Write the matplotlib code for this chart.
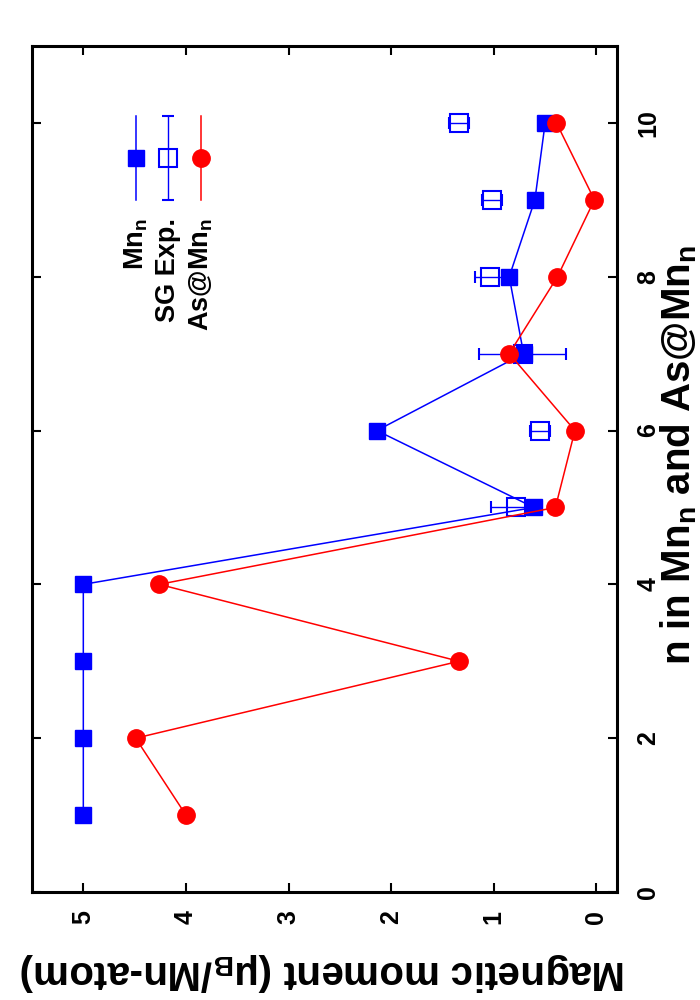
import matplotlib
matplotlib.use("Agg")
import matplotlib.pyplot as plt

plt.rcParams['font.family'] = ['Liberation Sans', 'DejaVu Sans']
plt.rcParams['font.weight'] = 'bold'
plt.rcParams['mathtext.fontset'] = 'custom'
plt.rcParams['mathtext.rm'] = 'Liberation Sans:bold'
plt.rcParams['mathtext.it'] = 'Liberation Sans:bold'
plt.rcParams['mathtext.bf'] = 'Liberation Sans:bold'

# ---- data ----
n_mn = [1, 2, 3, 4, 5, 6, 7, 8, 9, 10]
moment_mn = [5.0, 5.0, 5.0, 5.0, 0.61, 2.14, 0.71, 0.85, 0.60, 0.50]

n_as = [1, 2, 3, 4, 5, 6, 7, 8, 9, 10]
moment_as = [4.0, 4.49, 1.34, 4.26, 0.40, 0.21, 0.85, 0.38, 0.02, 0.39]

n_sg = [5, 6, 7, 8, 9, 10]
moment_sg = [0.78, 0.55, 0.72, 1.04, 1.02, 1.34]
err_sg = [0.25, 0.10, 0.42, 0.14, 0.10, 0.10]

moment_ticks = [0, 1, 2, 3, 4, 5]
n_ticks = [0, 2, 4, 6, 8, 10]

labels = ['Mn$_n$', 'SG Exp.', 'As@Mn$_n$']
xlabel_text = 'n in Mn$_n$ and As@Mn$_n$'
ylabel_text = 'Magnetic moment (\u03bc$_B$/Mn-atom)'

BLUE = '#0000ff'
RED = '#ff0000'

fig = plt.figure(figsize=(7, 10), dpi=100)
ax = fig.add_axes([32/700, 108/1000, 585/700, 846/1000])

# rotated chart: moment on horizontal axis (inverted), n on vertical axis
ax.plot(moment_mn, n_mn, '-s', color=BLUE, lw=1.1, ms=12, mec=BLUE, mfc=BLUE, zorder=3)
ax.errorbar(moment_sg, n_sg, xerr=err_sg, fmt='s', color=BLUE, ms=12.5,
            mfc='none', mec=BLUE, mew=1.5, elinewidth=1.0, capsize=4, capthick=1.0, zorder=2)
ax.plot(moment_as, n_as, '-o', color=RED, lw=1.1, ms=12.5, mec=RED, mfc=RED, zorder=4)

ax.set_xlim(5.5, -0.2)
ax.set_ylim(0, 11)
ax.set_xticks(moment_ticks)
ax.set_yticks(n_ticks)
ax.set_xticklabels([str(t) for t in moment_ticks], rotation=90, fontsize=18, fontweight='bold')
ax.set_yticklabels([str(t) for t in n_ticks], rotation=90, fontsize=18, fontweight='bold',
                   va='center')
ax.tick_params(axis='x', direction='in', top=True, bottom=True, length=6.5, width=1.5, pad=13)
ax.tick_params(axis='y', direction='in', left=True, right=True, labelleft=False,
               labelright=True, length=6.5, width=1.5, pad=14)
for sp in ax.spines.values():
    sp.set_linewidth(2.2)

# manual rotated legend (axes-fraction positions)
kx = [0.178, 0.232, 0.289]
y_top, y_bot, y_mid, y_txt = 0.917, 0.818, 0.868, 0.797
ax.plot([kx[0], kx[0]], [y_bot, y_top], color=BLUE, lw=1.1, transform=ax.transAxes, clip_on=False)
ax.plot([kx[0]], [y_mid], 's', color=BLUE, ms=12, transform=ax.transAxes, clip_on=False)
ax.errorbar([kx[1]], [y_mid], yerr=[(y_top - y_bot) / 2], fmt='s', color=BLUE, ms=12.5,
            mfc='none', mec=BLUE, mew=1.5, elinewidth=1.0, capsize=4, capthick=1.0,
            transform=ax.transAxes, clip_on=False)
ax.plot([kx[2], kx[2]], [y_bot, y_top], color=RED, lw=1.1, transform=ax.transAxes, clip_on=False)
ax.plot([kx[2]], [y_mid], 'o', color=RED, ms=12.5, transform=ax.transAxes, clip_on=False)
for x, lab in zip(kx, labels):
    ax.text(x, y_txt, lab, rotation=90, ha='center', va='top', fontsize=19.5,
            fontweight='bold', transform=ax.transAxes)

# axis labels (rotated like the reference)
fig.text(323/700, 1 - 972/1000, ylabel_text, rotation=180, ha='center', va='center',
         fontsize=29, fontweight='bold')
fig.text(699/700, 1 - 455/1000, xlabel_text, rotation=90, ha='right', va='center',
         fontsize=29, fontweight='bold')

fig.savefig('out.png', dpi=100)
